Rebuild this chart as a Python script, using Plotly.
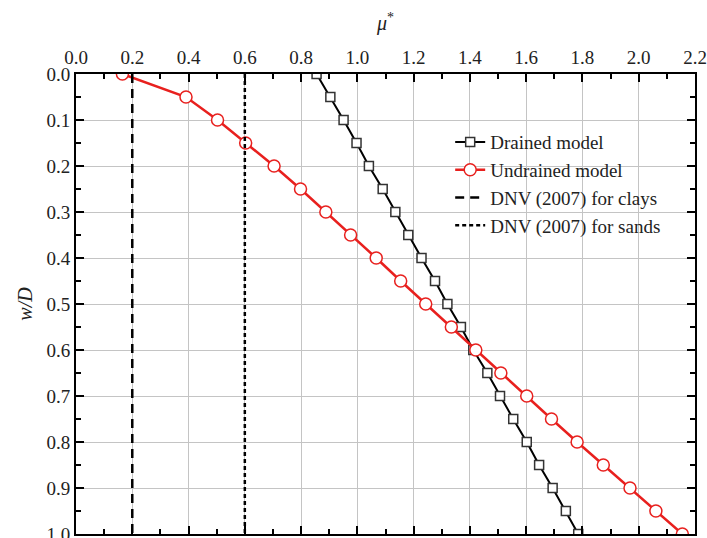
import plotly.graph_objects as go

wD = [0.0, 0.05, 0.1, 0.15, 0.2, 0.25, 0.3, 0.35, 0.4, 0.45, 0.5,
      0.55, 0.6, 0.65, 0.7, 0.75, 0.8, 0.85, 0.9, 0.95, 1.0]
drained = [0.855, 0.904, 0.951, 0.997, 1.041, 1.09, 1.135, 1.181, 1.228, 1.276, 1.32,
           1.368, 1.412, 1.462, 1.507, 1.554, 1.602, 1.646, 1.694, 1.741, 1.785]
undrained = [0.165, 0.391, 0.503, 0.603, 0.704, 0.798, 0.888, 0.976, 1.067, 1.154, 1.243,
             1.334, 1.421, 1.51, 1.602, 1.69, 1.781, 1.874, 1.969, 2.061, 2.155]
dnv_clays = 0.2
dnv_sands = 0.6
x_ticks = [0.0, 0.2, 0.4, 0.6, 0.8, 1.0, 1.2, 1.4, 1.6, 1.8, 2.0, 2.2]
y_ticks = [0.0, 0.1, 0.2, 0.3, 0.4, 0.5, 0.6, 0.7, 0.8, 0.9, 1.0]

FONT = "Liberation Serif, Times New Roman, serif"
RED = "#e8201e"

fig = go.Figure()
fig.add_trace(go.Scatter(
    x=drained, y=wD, mode="lines+markers", name="Drained model",
    line=dict(color="black", width=2),
    marker=dict(symbol="square", size=9, color="white",
                line=dict(color="#333333", width=1.5)),
))
fig.add_trace(go.Scatter(
    x=undrained, y=wD, mode="lines+markers", name="Undrained model",
    line=dict(color=RED, width=2.5),
    marker=dict(symbol="circle", size=12, color="white",
                line=dict(color=RED, width=1.5)),
))
fig.add_trace(go.Scatter(
    x=[dnv_clays, dnv_clays], y=[y_ticks[0], y_ticks[-1]], mode="lines",
    name="DNV (2007) for clays",
    line=dict(color="black", width=2.5, dash="9px,6px"),
))
fig.add_trace(go.Scatter(
    x=[dnv_sands, dnv_sands], y=[y_ticks[0], y_ticks[-1]], mode="lines",
    name="DNV (2007) for sands",
    line=dict(color="black", width=2.5, dash="4px,3px"),
))

axis_common = dict(
    showline=True, linecolor="black", linewidth=2, mirror="allticks",
    ticks="inside", ticklen=8, tickwidth=2, tickcolor="black",
    showgrid=True, gridcolor="#c4c4c4", gridwidth=1, zeroline=False,
    tickfont=dict(family=FONT, size=19, color="#222"),
    automargin=False,
)

# Figure is slightly taller than the window so the bottom edge is cropped, as in the reference.
fig.update_layout(
    width=707, height=546,
    margin=dict(l=76, r=12, t=74, b=12, autoexpand=False),
    paper_bgcolor="white", plot_bgcolor="white",
    font=dict(family=FONT, color="#222"),
    showlegend=True,
    legend=dict(
        x=0.6045, y=0.893, xanchor="left", yanchor="top",
        bgcolor="rgba(0,0,0,0)", borderwidth=0,
        font=dict(family=FONT, size=19, color="#222"),
        tracegroupgap=0, itemwidth=30,
    ),
    xaxis=dict(
        side="top", range=[0, 2.2], tickvals=x_ticks,
        ticktext=[f"{v:.1f}" for v in x_ticks],
        minor=dict(ticks="inside", ticklen=5, tickwidth=2, tickcolor="black",
                   dtick=0.1, showgrid=False),
        title=dict(text="<i>μ</i><sup>*</sup>", font=dict(family=FONT, size=20), standoff=11),
        **axis_common,
    ),
    yaxis=dict(
        range=[1.0, 0.0], tickvals=y_ticks,
        ticktext=[f"{v:.1f}" for v in y_ticks],
        minor=dict(ticks="inside", ticklen=5, tickwidth=2, tickcolor="black",
                   dtick=0.05, showgrid=False),
        title=dict(text="<i>w/D</i>", font=dict(family=FONT, size=20), standoff=8),
        **axis_common,
    ),
)

# Remove the default page margin / scrollbars so the figure fills the window exactly.
fig.write_html(
    "out.html",
    config={"displayModeBar": False},
    post_script="document.body.style.margin='0';document.body.style.overflow='hidden';"
                "document.documentElement.style.overflow='hidden';",
)
